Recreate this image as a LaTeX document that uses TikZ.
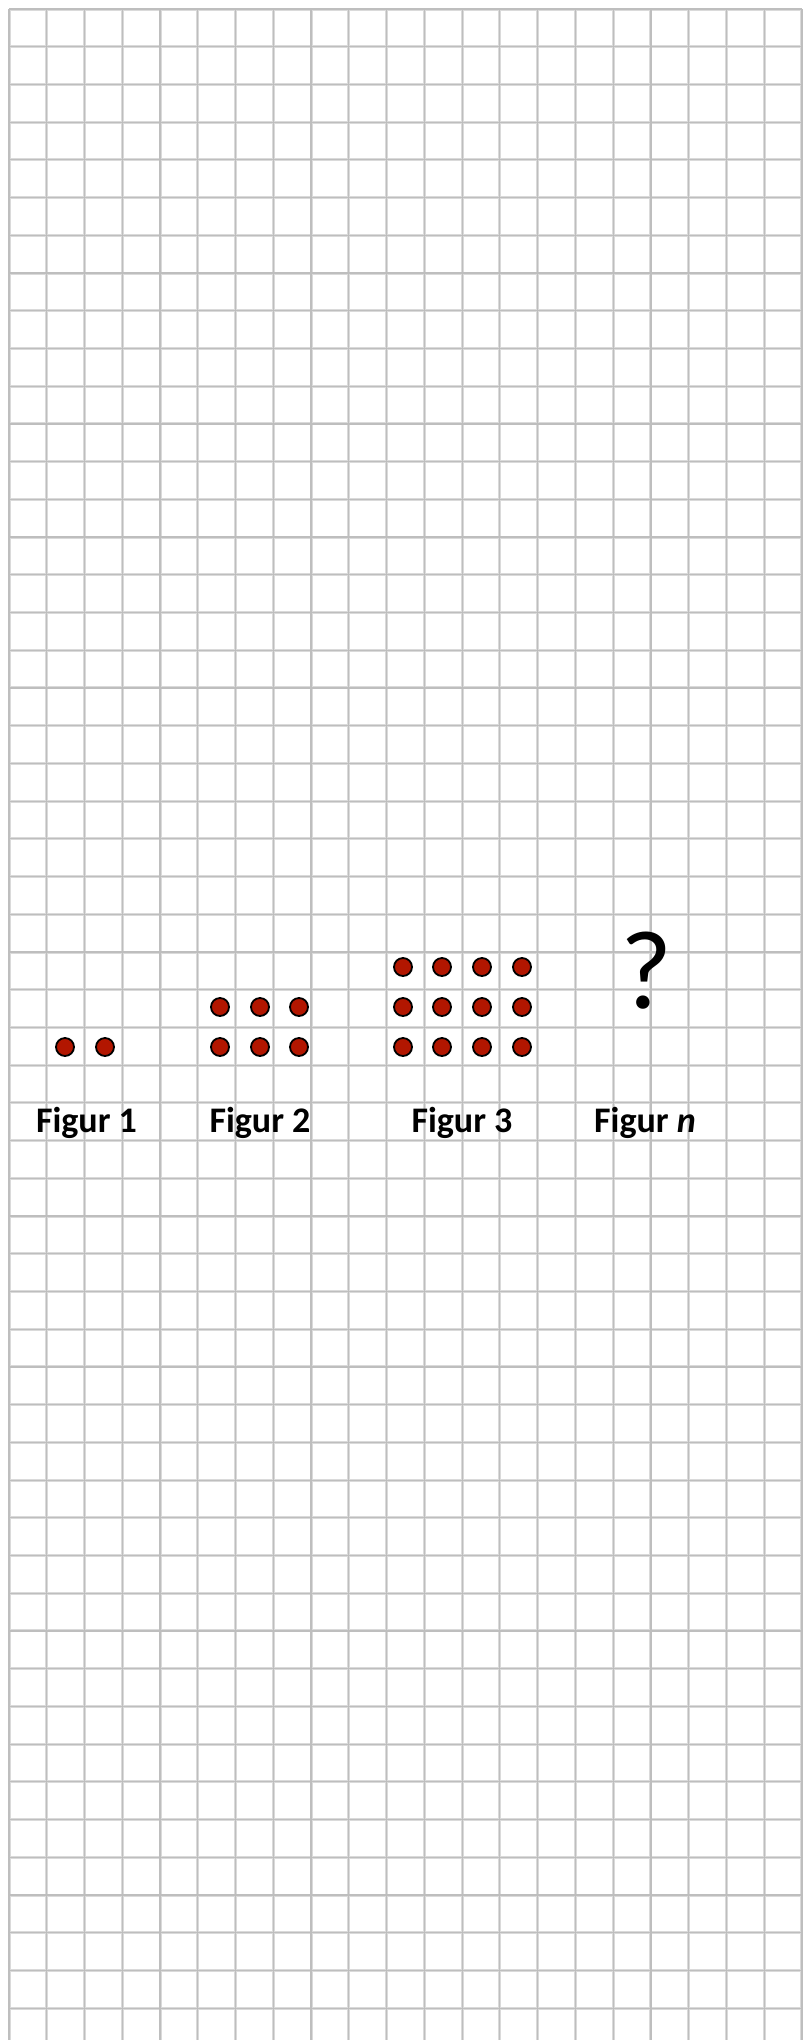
\documentclass[tikz,border=0pt]{standalone}
\usepackage{fontspec}
\setmainfont{Carlito}
\definecolor{gridlight}{RGB}{218,218,218}
\definecolor{griddark}{RGB}{190,190,190}
\definecolor{dotred}{RGB}{178,22,0}
\begin{document}
\begin{tikzpicture}[x=1bp,y=-1bp,
 gridlightline/.style={draw=gridlight,line width=3bp},
 griddarkline/.style={draw=griddark,line width=1.2bp},
 dot/.style={circle,fill=dotred,draw=black,line width=1.8bp,minimum size=18bp,inner sep=0pt},
 lab/.style={font=\fontsize{36bp}{40bp}\selectfont\bfseries,anchor=base,inner sep=0pt}]
\useasboundingbox (0,0) rectangle (809,2040);
\fill[white] (0,0) rectangle (809,2040);
\foreach \i in {0,...,21} \draw[gridlightline] ({9+37.76*\i},9) -- ({9+37.76*\i},2040);
\foreach \k in {0,...,53} \draw[gridlightline] (9,{9+37.72*\k}) -- (802,{9+37.72*\k});
\foreach \i in {0,...,21} \draw[griddarkline] ({9+37.76*\i},9) -- ({9+37.76*\i},2040);
\foreach \k in {0,...,53} \draw[griddarkline] (9,{9+37.72*\k}) -- (802,{9+37.72*\k});
% Figur 1
\node[dot] (f1a) at (65,1047) {};
\node[dot] (f1b) at (105,1047) {};
% Figur 2
\foreach \x [count=\c] in {220,260,299}
  \foreach \y [count=\r] in {1007,1047}
    \node[dot] (f2-\r-\c) at (\x,\y) {};
% Figur 3
\foreach \x [count=\c] in {403,442,482,522}
  \foreach \y [count=\r] in {967,1007,1047}
    \node[dot] (f3-\r-\c) at (\x,\y) {};
% question mark
\node[font=\fontsize{112bp}{112bp}\selectfont,anchor=base,inner sep=0pt] (q) at (646,1008) {?};
% labels
\node[lab] (l1) at (86.5,1132) {Figur 1};
\node[lab] (l2) at (260,1132) {Figur 2};
\node[lab] (l3) at (462,1132) {Figur 3};
\node[lab] (ln) at (645,1132) {Figur \textit{n}};
\end{tikzpicture}
\end{document}
